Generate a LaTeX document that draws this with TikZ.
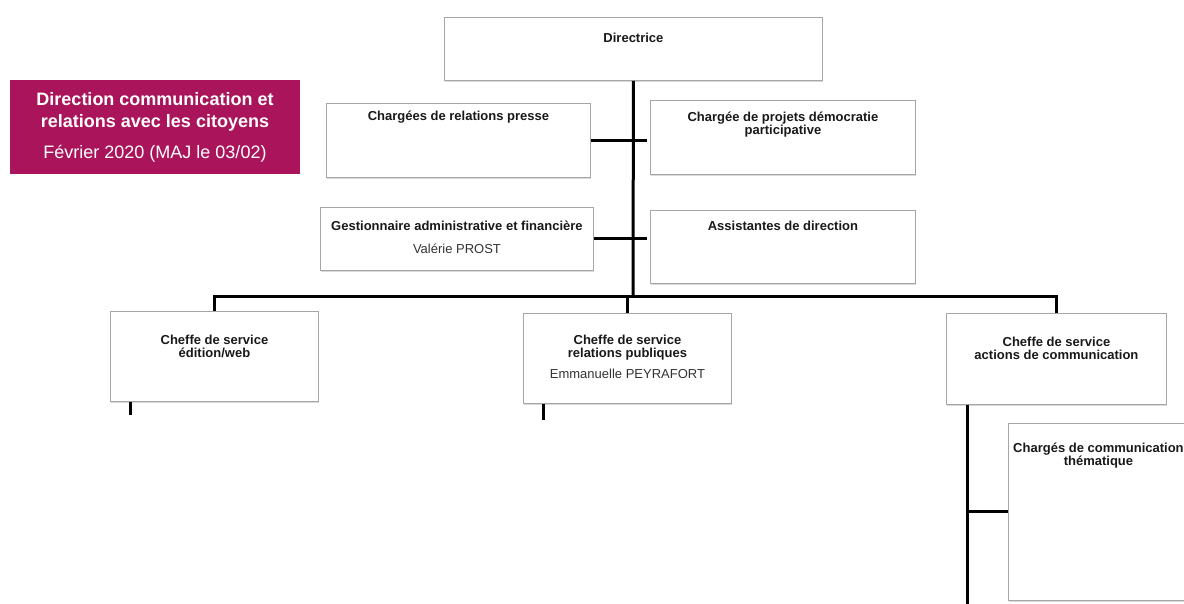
\documentclass[tikz,border=0pt]{standalone}
\usepackage{fontspec}
\setmainfont{Liberation Sans}
\usetikzlibrary{positioning,shadows}
\definecolor{prune}{RGB}{170,20,90}
\definecolor{ink}{RGB}{25,25,25}
\newcommand{\lblfont}{\fontsize{13}{13}\selectfont\bfseries}
\newcommand{\namefont}{\fontsize{13}{15}\selectfont}

\begin{document}
\begin{tikzpicture}[x=1pt,y=-1pt,
  box/.style={draw=black!35,line width=0.9pt,fill=white,anchor=north west,inner sep=0,
    drop shadow={shadow xshift=0.5pt,shadow yshift=-1.8pt,opacity=0.3}},
  lbl/.style={font=\lblfont,text=ink,align=center,inner sep=0},
  who/.style={font=\namefont,text=black!80,inner sep=0},
  link/.style={line width=3pt,black},
  titre/.style={fill=prune,text=white,font=\fontsize{18}{22}\selectfont,
    minimum width=290pt,minimum height=94pt,align=center,inner sep=0}]
\useasboundingbox (0,0) rectangle (1184,604);
\clip (0,0) rectangle (1184,604);

\node[titre] (ttl) at (155,127) {\textbf{Direction communication et}\\\textbf{relations avec les citoyens}\\[9pt]F\'evrier 2020 (MAJ le 03/02)};

\node[box,minimum width=378pt,minimum height=63pt] (d0) at (444,17) {};
\node[box,minimum width=264pt,minimum height=74pt] (p1) at (326,103) {};
\node[box,minimum width=265pt,minimum height=74pt] (p2) at (650,100) {};
\node[box,minimum width=273pt,minimum height=63pt] (g1) at (320,207) {};
\node[box,minimum width=265pt,minimum height=73pt] (a1) at (650,210) {};
\node[box,minimum width=208pt,minimum height=90pt] (c1) at (110,311) {};
\node[box,minimum width=208pt,minimum height=90pt] (c2) at (523,313) {};
\node[box,minimum width=220pt,minimum height=91pt] (c3) at (946,313) {};
\node[box,minimum width=180pt,minimum height=177pt] (t1) at (1008,423) {};

\node[lbl] (l0) at ([yshift=-21pt]d0.north) {Directrice};
\node[lbl] (lp1) at ([yshift=-14pt]p1.north) {Charg\'ees de relations presse};
\node[lbl] (lp2) at ([yshift=-24.5pt]p2.north) {Charg\'ee de projets d\'emocratie\\participative};
\node[lbl] (lg1) at ([yshift=-19pt]g1.north) {Gestionnaire administrative et financi\`ere};
\node[who] (ng1) at ([yshift=-42pt]g1.north) {Val\'erie PROST};
\node[lbl] (la1) at ([yshift=-16pt]a1.north) {Assistantes de direction};
\node[lbl] (lc1) at ([yshift=-35pt]c1.north) {Cheffe de service\\\'edition/web};
\node[lbl] (lc2) at ([yshift=-34.5pt]c2.north) {Cheffe de service\\relations publiques};
\node[who] (nc2) at ([yshift=-61pt]c2.north) {Emmanuelle PEYRAFORT};
\node[lbl] (lc3) at ([yshift=-35pt]c3.north) {Cheffe de service\\actions de communication};
\node[lbl] (lt1) at ([yshift=-33pt]t1.north) {Charg\'es de communication\\th\'ematique};

\coordinate (bus) at (633,297);
\coordinate (e1) at (130,415);
\coordinate (e2) at (543,420);
\coordinate (e3) at (967,610);
\draw[link] (d0.south) -- (bus);
\draw[link] (p1.east) -- ([xshift=-3pt]p2.west |- p1.east);
\draw[link] (g1.east) -- ([xshift=-3pt]a1.west |- g1.east);
\draw[link] (c1.north) |- (bus) -| (c3.north);
\draw[link] (c2.north) -- (c2.north |- bus);
\draw[link] (c1.south -| e1) -- (e1);
\draw[link] (c2.south -| e2) -- (e2);
\draw[link] (c3.south -| e3) -- (e3);
\draw[link] (t1.west) -- (t1.west -| e3);
\end{tikzpicture}
\end{document}
